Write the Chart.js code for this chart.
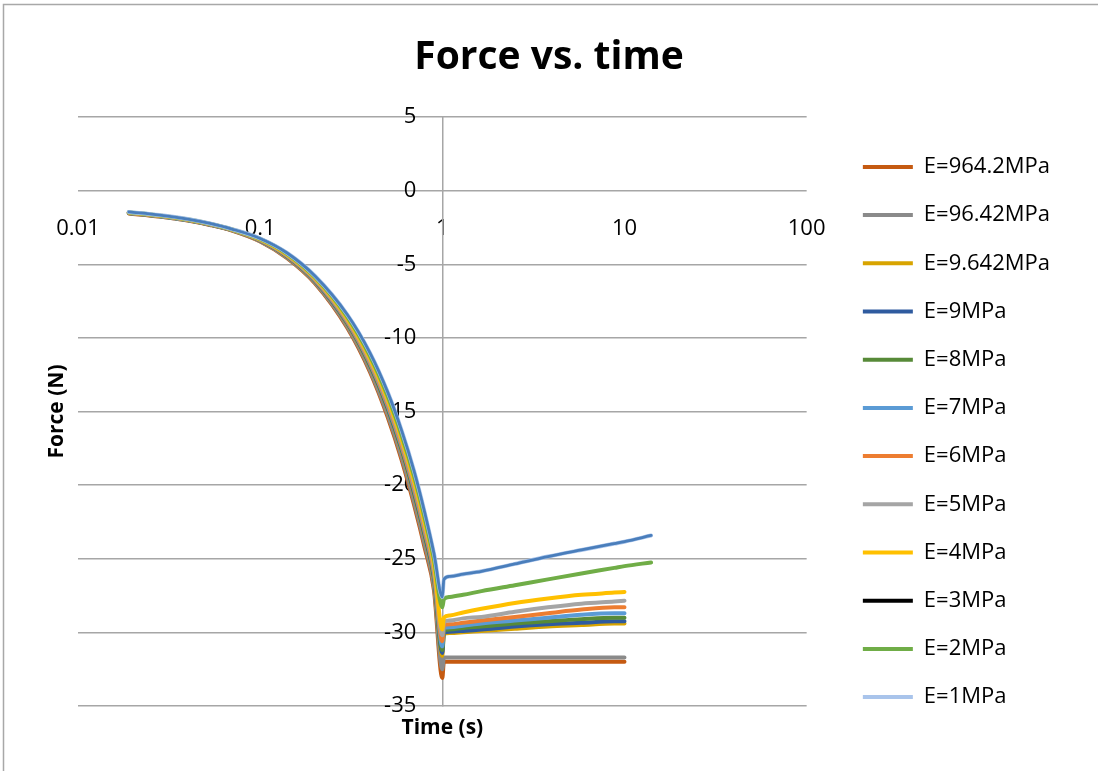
<!DOCTYPE html>
<html><head><meta charset="utf-8">
<script src="https://cdn.jsdelivr.net/npm/chart.js@4.4.1/dist/chart.umd.min.js"></script>
<style>html,body{margin:0;padding:0;background:#fff}#wrap{width:1098px;height:771px;position:relative}</style>
</head><body><div id="wrap"><canvas id="c"></canvas></div>
<script>
// ---- data ----
const chartTitle = 'Force vs. time';
const xTitle = 'Time (s)';
const yTitle = 'Force (N)';
const xTickValues = [0.01, 0.1, 1, 10, 100];
const xTickLabels = ['0.01', '0.1', '1', '10', '100'];
const yMin = -35, yMax = 5, yStep = 5;
const yAxisCross = 1;        // vertical axis crosses the time axis at t = 1
const yLabelAnchor = 0.72;   // y tick labels sit just left of the crossing axis

const tShort = [0.019,0.028,0.04,0.053,0.07,0.1,0.14,0.2,0.3,0.4,0.5,0.6,0.7,0.8,0.9,1.0,1.02,1.1,1.3,1.64,2.5,3.8,5.8,8.8,10];
const tLong  = [0.019,0.028,0.04,0.053,0.07,0.1,0.14,0.2,0.3,0.4,0.5,0.6,0.7,0.8,0.9,1.0,1.02,1.1,1.3,1.64,2.5,3.8,5.8,8.8,10,14];

const seriesLabels = ['E=964.2MPa','E=96.42MPa','E=9.642MPa','E=9MPa','E=8MPa','E=7MPa','E=6MPa','E=5MPa','E=4MPa','E=3MPa','E=2MPa','E=1MPa'];
const seriesColors = ['#c55a11','#8a8a8a','#d8a400','#2f5b9f','#578a38','#5b9bd5','#ed7d31','#a5a5a5','#ffc000','#000000','#70ad47','#a9c4eb'];

const fE964 = [-1.55,-1.76,-2.03,-2.33,-2.71,-3.45,-4.57,-6.3,-9.3,-12.3,-15.35,-18.35,-21.35,-24.25,-27.15,-33.1,-32.0,-32.0,-32.0,-32.0,-32.0,-32.0,-32.0,-32.0,-32.0];
const fE96  = [-1.54,-1.75,-2.02,-2.32,-2.7,-3.43,-4.54,-6.25,-9.21,-12.17,-15.18,-18.15,-21.12,-24.01,-26.9,-32.5,-31.7,-31.7,-31.7,-31.7,-31.7,-31.7,-31.7,-31.7,-31.7];
const fE9_6 = [-1.52,-1.73,-2.0,-2.3,-2.68,-3.39,-4.47,-6.15,-9.03,-11.91,-14.84,-17.75,-20.66,-23.53,-26.4,-31.6,-30.1,-30.05,-30.0,-29.9,-29.75,-29.6,-29.5,-29.4,-29.4];
const fE9   = [-1.52,-1.73,-2.0,-2.3,-2.68,-3.38,-4.45,-6.13,-8.99,-11.85,-14.76,-17.65,-20.55,-23.41,-26.28,-31.4,-30.0,-29.95,-29.9,-29.8,-29.6,-29.45,-29.35,-29.25,-29.25];
const fE8   = [-1.51,-1.72,-1.99,-2.29,-2.67,-3.37,-4.43,-6.1,-8.94,-11.78,-14.67,-17.55,-20.43,-23.29,-26.15,-31.2,-29.85,-29.8,-29.7,-29.6,-29.4,-29.25,-29.1,-29.0,-29.0];
const fE7   = [-1.51,-1.72,-1.99,-2.29,-2.67,-3.36,-4.41,-6.08,-8.9,-11.72,-14.59,-17.45,-20.32,-23.17,-26.03,-30.95,-29.7,-29.65,-29.55,-29.4,-29.2,-29.0,-28.8,-28.7,-28.7];
const fE6   = [-1.5,-1.71,-1.98,-2.28,-2.66,-3.35,-4.4,-6.05,-8.85,-11.65,-14.5,-17.35,-20.2,-23.05,-25.9,-30.6,-29.5,-29.45,-29.35,-29.2,-28.95,-28.7,-28.45,-28.3,-28.3];
const fE5   = [-1.49,-1.7,-1.97,-2.27,-2.65,-3.33,-4.36,-6.0,-8.76,-11.52,-14.33,-17.15,-19.97,-22.81,-25.65,-30.2,-29.3,-29.2,-29.05,-28.95,-28.6,-28.3,-28.05,-27.9,-27.85];
const fE4   = [-1.48,-1.69,-1.96,-2.26,-2.64,-3.31,-4.33,-5.95,-8.67,-11.39,-14.16,-16.95,-19.74,-22.57,-25.4,-29.8,-29.0,-28.85,-28.65,-28.4,-28.0,-27.7,-27.45,-27.3,-27.25];
const fE3   = [];
const fE2   = [-1.47,-1.68,-1.95,-2.25,-2.63,-3.28,-4.27,-5.88,-8.54,-11.2,-13.91,-16.65,-19.4,-22.21,-25.03,-28.3,-27.75,-27.6,-27.45,-27.2,-26.8,-26.4,-26.0,-25.62,-25.5,-25.25];
const fE1   = [-1.45,-1.66,-1.93,-2.23,-2.61,-3.25,-4.22,-5.8,-8.4,-11.0,-13.65,-16.35,-19.05,-21.85,-24.65,-27.6,-26.4,-26.2,-26.05,-25.85,-25.35,-24.85,-24.4,-23.97,-23.84,-23.42];

const seriesForces = [fE964, fE96, fE9_6, fE9, fE8, fE7, fE6, fE5, fE4, fE3, fE2, fE1];
const seriesTimes  = [tShort, tShort, tShort, tShort, tShort, tShort, tShort, tShort, tShort, tShort, tLong, tLong];

// ---- build chart ----
Chart.defaults.font.family = "'Open Sans', 'DejaVu Sans', sans-serif";
Chart.defaults.color = '#000';

const pts = (ts, fs) => fs.map((f, i) => ({x: ts[i], y: f}));
const n = seriesLabels.length;
const datasets = seriesLabels.map((lab, i) => ({
  label: lab,
  data: pts(seriesTimes[i], seriesForces[i]),
  borderColor: seriesColors[i],
  backgroundColor: seriesColors[i],
  pointBorderColor: seriesColors[i],
  borderWidth: 4,
  pointBorderWidth: 4,
  pointRadius: 0,
  pointHoverRadius: 0,
  borderCapStyle: 'round',
  borderJoinStyle: 'round',
  cubicInterpolationMode: 'monotone',
  order: n - i
}));
// darker core for the top (E=1MPa) curve, as rendered in the reference
datasets.push({
  label: '',
  data: pts(tLong, fE1),
  borderColor: '#4a7ebb',
  backgroundColor: '#4a7ebb',
  borderWidth: 2.8,
  pointRadius: 0,
  pointHoverRadius: 0,
  borderCapStyle: 'round',
  cubicInterpolationMode: 'monotone',
  order: 0
});

const framePlugin = {
  id: 'frame',
  beforeDraw(chart) {
    const ctx = chart.ctx;
    ctx.save();
    ctx.fillStyle = '#fff';
    ctx.fillRect(0, 0, chart.width, chart.height);
    ctx.strokeStyle = '#a8a8a8';
    ctx.lineWidth = 1.5;
    ctx.strokeRect(3.5, 4.5, chart.width + 20, chart.height + 20);
    ctx.restore();
  }
};
const legendGap = 30;
const legendShift = {
  id: 'legendShift',
  afterLayout(chart) {
    const lg = chart.legend;
    if (!lg) return;
    const w = lg.right - lg.left;
    lg.left = chart.chartArea.right + legendGap;
    lg.right = lg.left + w;
  }
};

const hidden = {grid: {display: false, drawTicks: false}, border: {display: false}};

new Chart(document.getElementById('c'), {
  type: 'line',
  data: {datasets},
  plugins: [framePlugin, legendShift],
  options: {
    responsive: true,
    maintainAspectRatio: false,
    animation: false,
    events: [],
    layout: {padding: {left: 0, right: 0, top: 0, bottom: 24}},
    plugins: {
      title: {display: true, text: chartTitle, color: '#000',
        font: {size: 39, weight: 'bold'}, padding: {top: 34.6, bottom: 35.6}},
      legend: {
        position: 'right', align: 'center', maxWidth: 400,
        title: {display: true, text: '', font: {size: 10, lineHeight: 1}, padding: {top: 107, bottom: 0}},
        labels: {
          usePointStyle: true, pointStyle: 'line', pointStyleWidth: 50,
          padding: 26.2, font: {size: 22}, color: '#000',
          filter: (item) => item.text !== '',
          sort: (a, b) => a.datasetIndex - b.datasetIndex
        }
      },
      tooltip: {enabled: false}
    },
    scales: {
      x: {
        type: 'logarithmic', min: xTickValues[0], max: xTickValues[xTickValues.length - 1],
        position: {y: 0},
        ...hidden,
        afterBuildTicks: (scale) => { scale.ticks = xTickValues.map(v => ({value: v})); },
        ticks: {autoSkip: false, maxRotation: 0, padding: 24.8, font: {size: 22}, color: '#000',
          callback: (v, i) => xTickLabels[i]}
      },
      y: {
        type: 'linear', min: yMin, max: yMax,
        position: {x: yAxisCross},
        grid: {color: '#a6a6a6', lineWidth: 1.5, drawTicks: false},
        border: {display: true, color: '#a6a6a6', width: 1.5},
        ticks: {stepSize: yStep, display: false}
      },
      yL: {
        type: 'linear', min: yMin, max: yMax,
        position: {x: yLabelAnchor},
        ...hidden,
        ticks: {stepSize: yStep, font: {size: 22}, color: '#000'}
      },
      x2: {
        type: 'logarithmic', min: xTickValues[0], max: xTickValues[xTickValues.length - 1],
        position: 'bottom', ...hidden,
        ticks: {display: false},
        title: {display: true, text: xTitle, color: '#000', font: {size: 21, weight: 'bold'}, padding: {top: 9.4, bottom: 6.4}}
      },
      y2: {
        type: 'linear', position: 'left', ...hidden,
        ticks: {display: false},
        title: {display: true, text: yTitle, color: '#000', font: {size: 21, weight: 'bold'}, padding: {top: 44.4, bottom: 8.4}}
      },
      yR: {
        type: 'linear', position: 'right', ...hidden,
        ticks: {display: false},
        title: {display: true, text: '', font: {size: 68, lineHeight: 1}, padding: 0}
      }
    }
  }
});
</script>
</body></html>
